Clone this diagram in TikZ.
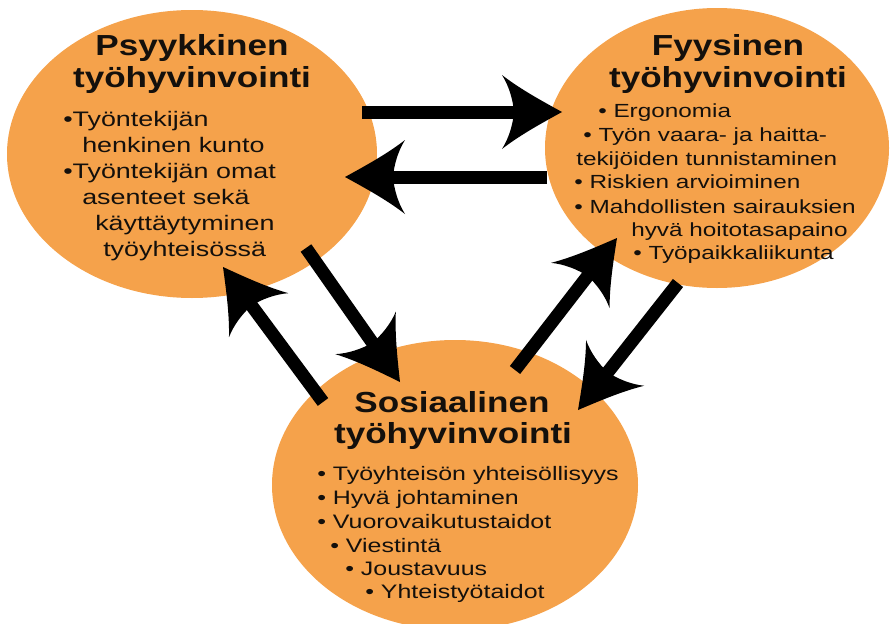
\documentclass[tikz,border=0pt]{standalone}
\usepackage{fontspec}
\setmainfont{Liberation Sans}
\usetikzlibrary{shapes.geometric,arrows.meta}
\definecolor{hvorange}{RGB}{245,162,75}
\definecolor{hvtext}{RGB}{20,16,12}
\pgfdeclarearrow{
  name=Swept,
  setup code={
    \pgfarrowssettipend{0pt}
    \pgfarrowssetlineend{-40pt}
    \pgfarrowssetvisualbackend{-60pt}
    \pgfarrowssetbackend{-60pt}
    \pgfarrowsupperhullpoint{0pt}{0pt}
    \pgfarrowsupperhullpoint{-60pt}{37pt}
  },
  drawing code={
    \pgfpathmoveto{\pgfqpoint{0pt}{0pt}}
    \pgfpathcurveto{\pgfqpoint{-20pt}{11pt}}{\pgfqpoint{-42pt}{23pt}}{\pgfqpoint{-60pt}{37pt}}
    \pgfpathcurveto{\pgfqpoint{-53pt}{26pt}}{\pgfqpoint{-49pt}{12pt}}{\pgfqpoint{-48pt}{0pt}}
    \pgfpathcurveto{\pgfqpoint{-49pt}{-12pt}}{\pgfqpoint{-53pt}{-26pt}}{\pgfqpoint{-60pt}{-37pt}}
    \pgfpathcurveto{\pgfqpoint{-42pt}{-23pt}}{\pgfqpoint{-20pt}{-11pt}}{\pgfqpoint{0pt}{0pt}}
    \pgfpathclose
    \pgfusepathqfill
  }
}
\tikzset{
  blob/.style={ellipse,fill=hvorange,inner sep=0pt},
  title/.style={anchor=base,font=\bfseries\fontsize{29}{32}\selectfont,text=hvtext,
    inner sep=0pt,xscale=1.21,transform shape},
  item/.style={anchor=base west,text=hvtext,inner sep=0pt,xscale=1.28,transform shape},
  bigarrow/.style={line width=13pt,-{Swept}}
}
\begin{document}
\begin{tikzpicture}[x=1pt,y=-1pt]
  \useasboundingbox (0,0) rectangle (892,624);
  \node[blob,minimum width=370pt,minimum height=288pt] (psyk) at (192,154) {};
  \node[blob,minimum width=344pt,minimum height=280pt] (fyys) at (717,148) {};
  \node[blob,minimum width=366pt,minimum height=290pt] (sos) at (455,485) {};
  \draw
    (192,55) node[title] (p0) {Psyykkinen}
    (192,87) node[title] (p1) {työhyvinvointi}
    (63,126) node[item,font=\fontsize{21}{24}\selectfont] (p2) {•Työntekijän}
    (82,152) node[item,font=\fontsize{21}{24}\selectfont] (p3) {henkinen kunto}
    (63,178) node[item,font=\fontsize{21}{24}\selectfont] (p4) {•Työntekijän omat}
    (82,204) node[item,font=\fontsize{21}{24}\selectfont] (p5) {asenteet sekä}
    (95,230) node[item,font=\fontsize{21}{24}\selectfont] (p6) {käyttäytyminen}
    (103,256) node[item,font=\fontsize{21}{24}\selectfont] (p7) {työyhteisössä};
  \draw
    (728,55) node[title] (f0) {Fyysinen}
    (728,87) node[title] (f1) {työhyvinvointi}
    (598,117) node[item,font=\fontsize{19}{22}\selectfont] (f2) {• Ergonomia}
    (583,141) node[item,font=\fontsize{19}{22}\selectfont] (f3) {• Työn vaara- ja haitta-}
    (576,165) node[item,font=\fontsize{19}{22}\selectfont] (f4) {tekijöiden tunnistaminen}
    (574,188) node[item,font=\fontsize{19}{22}\selectfont] (f5) {• Riskien arvioiminen}
    (574,213) node[item,font=\fontsize{19}{22}\selectfont] (f6) {• Mahdollisten sairauksien}
    (631,236) node[item,font=\fontsize{19}{22}\selectfont] (f7) {hyvä hoitotasapaino}
    (633,259) node[item,font=\fontsize{19}{22}\selectfont] (f8) {• Työpaikkaliikunta};
  \draw
    (452,412) node[title] (s0) {Sosiaalinen}
    (453,443) node[title] (s1) {työhyvinvointi}
    (317,480) node[item,font=\fontsize{19.5}{22}\selectfont] (s2) {• Työyhteisön yhteisöllisyys}
    (317,504) node[item,font=\fontsize{19.5}{22}\selectfont] (s3) {• Hyvä johtaminen}
    (317,528) node[item,font=\fontsize{19.5}{22}\selectfont] (s4) {• Vuorovaikutustaidot}
    (330,552) node[item,font=\fontsize{19.5}{22}\selectfont] (s5) {• Viestintä}
    (345,575) node[item,font=\fontsize{19.5}{22}\selectfont] (s6) {• Joustavuus}
    (365,598) node[item,font=\fontsize{19.5}{22}\selectfont] (s7) {• Yhteistyötaidot};
  \coordinate (pf-out) at (362,112);
  \coordinate (pf-in) at (562,112);
  \coordinate (fp-out) at (547,177);
  \coordinate (fp-in) at (345,177);
  \coordinate (ps-out) at (306,248);
  \coordinate (ps-in) at (400,382);
  \coordinate (sp-out) at (323,402);
  \coordinate (sp-in) at (223,267);
  \coordinate (sf-out) at (515,370);
  \coordinate (sf-in) at (617,238);
  \coordinate (fs-out) at (678,283);
  \coordinate (fs-in) at (578,410);
  \begin{scope}[bigarrow]
    \draw (pf-out) to (pf-in);
    \draw (fp-out) to (fp-in);
    \draw (ps-out) to (ps-in);
    \draw (sp-out) to (sp-in);
    \draw (sf-out) to (sf-in);
    \draw (fs-out) to (fs-in);
  \end{scope}
\end{tikzpicture}
\end{document}
